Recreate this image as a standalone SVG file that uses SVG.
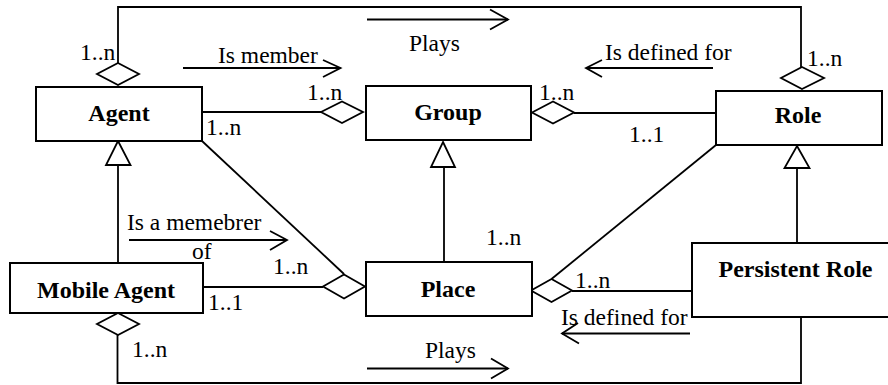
<svg xmlns="http://www.w3.org/2000/svg" width="888" height="385" viewBox="0 0 888 385">
<style>
.box{fill:#fff;stroke:#000;stroke-width:2}
.ln{fill:none;stroke:#000;stroke-width:1.8}
.dia{fill:#fff;stroke:#000;stroke-width:1.8}
.tri{fill:#fff;stroke:#000;stroke-width:1.8}
.nm{font-family:'Liberation Serif','Times New Roman',serif;font-weight:bold;font-size:24px;text-anchor:middle}
.lb{font-family:'Liberation Serif','Times New Roman',serif;font-size:23.5px}
</style>
<rect width="888" height="385" fill="#fff"/>
<g id="connectors">
  <polyline class="ln" points="118,63 118,7 801,7 801,67"/>
  <polygon class="dia" points="118,63 139,74 118,85 97,74"/>
  <polygon class="dia" points="802,67 824,78 802,89 781,78"/>
  <line class="ln" x1="202" y1="112" x2="321" y2="112"/>
  <polygon class="dia" points="321,112 342,101.5 363,112 342,123"/>
  <line class="ln" x1="574" y1="113" x2="716" y2="113"/>
  <polygon class="dia" points="532,112.5 553,101.5 574,112.5 553,123.5"/>
  <line class="ln" x1="118" y1="165" x2="118" y2="263"/>
  <polygon class="tri" points="118,141 130.5,165 106,165"/>
  <line class="ln" x1="444" y1="167" x2="444" y2="262"/>
  <polygon class="tri" points="443,142 455,167 431,167"/>
  <line class="ln" x1="797" y1="168" x2="797" y2="243"/>
  <polygon class="tri" points="797,146 809.5,168 784.5,168"/>
  <line class="ln" x1="202" y1="141" x2="344" y2="274"/>
  <line class="ln" x1="203" y1="287" x2="323" y2="287"/>
  <polygon class="dia" points="323,286.5 344,274.5 365,286.5 344,298.5"/>
  <line class="ln" x1="716" y1="145" x2="551.5" y2="279"/>
  <line class="ln" x1="572" y1="291" x2="692" y2="291"/>
  <polygon class="dia" points="531,290.5 551.5,279 572,290.5 551.5,302"/>
  <polyline class="ln" points="117.5,335 117.5,383 801,383 801,317"/>
  <polygon class="dia" points="118,313 139,324 118,335 97,324"/>
  <line class="ln" x1="367" y1="19.5" x2="508" y2="19.5"/>
  <polyline class="ln" points="490,9.5 508,19.5 490,29.5"/>
  <line class="ln" x1="183" y1="68" x2="340.5" y2="68"/>
  <polyline class="ln" points="323,60 340.5,68 323,77"/>
  <line class="ln" x1="586" y1="68" x2="713" y2="68"/>
  <polyline class="ln" points="602,60 586,68 602,77"/>
  <line class="ln" x1="129" y1="240" x2="287" y2="240"/>
  <polyline class="ln" points="270,231 287,240 270,250"/>
  <line class="ln" x1="562" y1="333.5" x2="690" y2="333.5"/>
  <polyline class="ln" points="578,323 562,333.5 579,343.5"/>
  <line class="ln" x1="367" y1="368.5" x2="508" y2="368.5"/>
  <polyline class="ln" points="491,358.5 508,368.5 491,378.5"/>
</g>
<g id="labels">
  <text class="lb" x="409" y="51">Plays</text>
  <text class="lb" x="218" y="63">Is member</text>
  <text class="lb" x="605" y="60">Is defined for</text>
  <text class="lb" x="80" y="60">1..n</text>
  <text class="lb" x="807" y="66">1..n</text>
  <text class="lb" x="307" y="100">1..n</text>
  <text class="lb" x="206" y="135">1..n</text>
  <text class="lb" x="539" y="100">1..n</text>
  <text class="lb" x="629" y="141.5">1..1</text>
  <text class="lb" x="127" y="230">Is a memebrer</text>
  <text class="lb" x="192" y="259">of</text>
  <text class="lb" x="273" y="274">1..n</text>
  <text class="lb" x="208" y="310">1..1</text>
  <text class="lb" x="486" y="245">1..n</text>
  <text class="lb" x="575" y="288">1..n</text>
  <text class="lb" x="561" y="325">Is defined for</text>
  <text class="lb" x="132" y="357">1..n</text>
  <text class="lb" x="425" y="358">Plays</text>
</g>
<g id="agent"><rect class="box" x="36" y="87" width="166" height="54"/><text class="nm" x="119" y="121">Agent</text></g>
<g id="group"><rect class="box" x="366" y="86" width="165" height="54"/><text class="nm" x="448" y="120">Group</text></g>
<g id="role"><rect class="box" x="716" y="91" width="166" height="54"/><text class="nm" x="798" y="123">Role</text></g>
<g id="mobile-agent"><rect class="box" x="10" y="263" width="193" height="50"/><text class="nm" x="106" y="298">Mobile Agent</text></g>
<g id="place"><rect class="box" x="366" y="262" width="166" height="54"/><text class="nm" x="448" y="297">Place</text></g>
<g id="persistent-role"><rect class="box" x="692" y="243" width="198" height="74"/><text class="nm" x="795.5" y="277">Persistent Role</text></g>
</svg>
